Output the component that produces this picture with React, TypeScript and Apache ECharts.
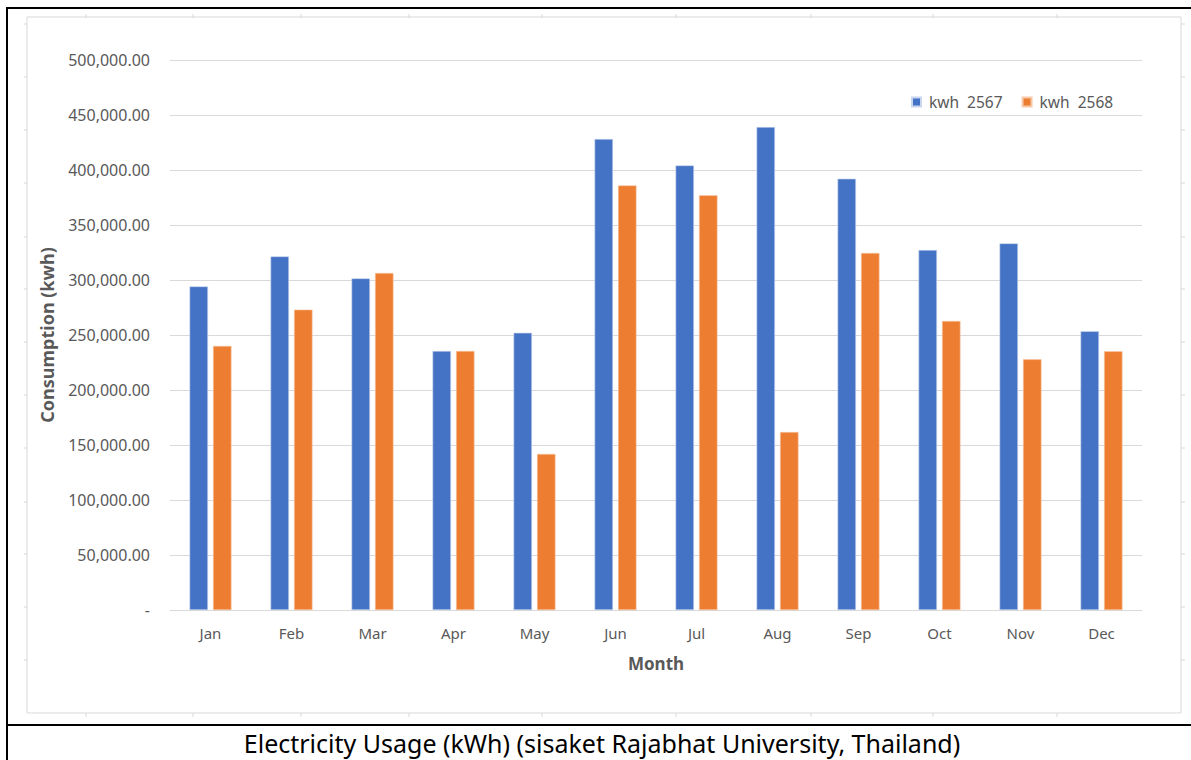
import React, { useEffect, useRef } from "react";
import * as echarts from "echarts";

const months = ["Jan", "Feb", "Mar", "Apr", "May", "Jun", "Jul", "Aug", "Sep", "Oct", "Nov", "Dec"];
const kwh2567 = [294200, 321500, 301500, 235500, 252000, 428200, 404200, 439100, 392100, 327300, 333300, 253400];
const kwh2568 = [240100, 273100, 306400, 235500, 141900, 386000, 377000, 161800, 324600, 262800, 227900, 235200];
const seriesNames = ["kwh  2567", "kwh  2568"];
const yTicks = { min: 0, max: 500000, interval: 50000 };
const caption = "Electricity Usage (kWh) (sisaket Rajabhat University, Thailand)";
const colTicksX = [86, 193, 301, 409, 542, 676, 811, 933, 1057];
const rowTicksY = [24, 77, 130, 183, 237, 289, 342, 395, 448, 502, 554, 607, 660];

export default function App() {
  const ref = useRef<HTMLDivElement>(null);
  useEffect(() => {
    if (!ref.current) return;
    const chart = echarts.init(ref.current, null, { renderer: "svg" });
    const font = "'Noto Sans', sans-serif";
    const grey = "#595959";
    const frameLines: any[] = [];
    colTicksX.forEach((x) => {
      frameLines.push({ type: "line", shape: { x1: x, y1: 14, x2: x, y2: 18 }, style: { stroke: "#d9d9d9", lineWidth: 1 } });
      frameLines.push({ type: "line", shape: { x1: x, y1: 713, x2: x, y2: 717 }, style: { stroke: "#d9d9d9", lineWidth: 1 } });
    });
    rowTicksY.forEach((y) => {
      frameLines.push({ type: "line", shape: { x1: 24, y1: y, x2: 27, y2: y }, style: { stroke: "#d9d9d9", lineWidth: 1 } });
      frameLines.push({ type: "line", shape: { x1: 1181, y1: y, x2: 1185, y2: y }, style: { stroke: "#d9d9d9", lineWidth: 1 } });
    });
    chart.setOption({
      animation: false,
      backgroundColor: "#ffffff",
      textStyle: { fontFamily: font },
      color: ["#4472C4", "#ED7D31"],
      graphic: [
        { type: "rect", shape: { x: 27, y: 17, width: 1154, height: 696 }, style: { fill: "none", stroke: "#d9d9d9", lineWidth: 1 }, z: -1 },
        ...frameLines,
        { type: "line", shape: { x1: 7, y1: 8, x2: 1191, y2: 8 }, style: { stroke: "#000", lineWidth: 2 } },
        { type: "line", shape: { x1: 7, y1: 7, x2: 7, y2: 760 }, style: { stroke: "#000", lineWidth: 2 } },
        { type: "line", shape: { x1: 7, y1: 725, x2: 1191, y2: 725 }, style: { stroke: "#000", lineWidth: 2 } },
        {
          type: "text",
          x: 602,
          y: 743,
          style: { text: caption, fill: "#000", font: `25px ${font}`, textAlign: "center", textVerticalAlign: "middle" },
        },
      ],
      legend: {
        data: seriesNames,
        left: 906,
        top: 89,
        itemWidth: 9,
        itemHeight: 9,
        itemGap: 19,
        icon: "rect",
        textStyle: { color: grey, fontSize: 15.5, fontFamily: font, padding: [0, 0, 0, 3] },
      },
      grid: { left: 170, right: 49, top: 60, bottom: 150, containLabel: false },
      xAxis: {
        type: "category",
        data: months,
        name: "Month",
        nameLocation: "middle",
        nameGap: 45,
        nameTextStyle: { color: grey, fontSize: 17, fontWeight: "bold", fontFamily: font },
        axisLine: { lineStyle: { color: "#d9d9d9", width: 1 } },
        axisTick: { show: false },
        axisLabel: { color: grey, fontSize: 15, margin: 15, fontFamily: font },
      },
      yAxis: {
        type: "value",
        min: yTicks.min,
        max: yTicks.max,
        interval: yTicks.interval,
        name: "Consumption (kwh)",
        nameLocation: "middle",
        nameGap: 114,
        nameTextStyle: { color: grey, fontSize: 18, fontWeight: "bold", fontFamily: font },
        axisLine: { show: false },
        axisTick: { show: false },
        splitLine: { lineStyle: { color: "#d9d9d9", width: 1 } },
        axisLabel: {
          color: grey,
          fontSize: 16,
          margin: 20,
          fontFamily: font,
          formatter: (v: number) =>
            v === 0 ? "-" : v.toLocaleString("en-US", { minimumFractionDigits: 2, maximumFractionDigits: 2 }),
        },
      },
      series: [
        {
          name: seriesNames[0],
          type: "bar",
          data: kwh2567,
          barWidth: 18.5,
          barGap: "27%",
          itemStyle: { borderColor: "#c9d6ef", borderWidth: 0.6 },
        },
        {
          name: seriesNames[1],
          type: "bar",
          data: kwh2568,
          barWidth: 18.5,
          itemStyle: { borderColor: "#f7c9a8", borderWidth: 0.6 },
        },
      ],
    });
    return () => chart.dispose();
  }, []);
  return <div ref={ref} style={{ position: "absolute", left: 0, top: 0, width: 1191, height: 760 }} />;
}
